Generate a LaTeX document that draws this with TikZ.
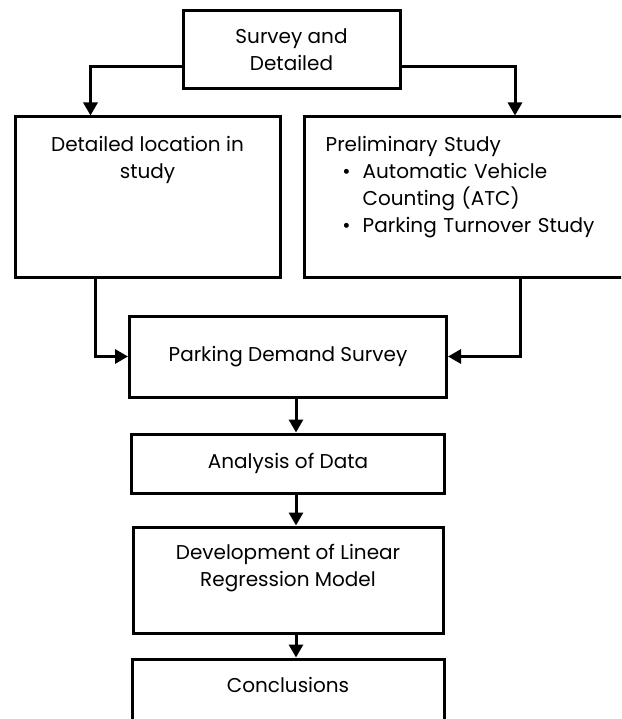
\documentclass[tikz,border=0pt]{standalone}
\usepackage{fontspec}
\setmainfont{Poppins}
\usepackage{enumitem}
\usetikzlibrary{arrows.meta, positioning}

\tikzset{
  stage/.style={draw, rectangle, line width=3pt, inner sep=0pt, align=center,
    font=\fontsize{20}{27}\selectfont},
  stagetext/.style={inner sep=0pt, align=center, font=\fontsize{20}{27}\selectfont},
  flow/.style={line width=3pt, -{Triangle[length=13pt,width=14pt]}},
}

\begin{document}
\begin{tikzpicture}[x=1pt, y=-1pt]

\useasboundingbox (0,0) rectangle (621,719);
\clip (0,0) rectangle (621,719);

%survey
\node[stage, minimum width=217pt, minimum height=78pt] (survey) at (291.5,50) {Survey and\\Detailed};
%location
\node[stage, minimum width=265pt, minimum height=160pt] (location) at (147.5,197) {};
\node[stagetext, below=20.5pt of location.north] (locationtext) {Detailed location in\\study};
%preliminary
\node[stage, minimum width=422pt, minimum height=160pt] (prelim) at (515,197) {};
\node[stagetext, align=left, text width=300pt, below right=20.5pt and 23pt of prelim.north west] (prelimtext) {Preliminary Study
\begin{itemize}[nosep, leftmargin=37pt, labelsep=12pt]
\item Automatic Vehicle\\Counting (ATC)
\item Parking Turnover Study
\end{itemize}};
%parking
\node[stage, minimum width=317pt, minimum height=81pt] (parking) at (288,356.5) {Parking Demand Survey};
%analysis
\node[stage, minimum width=313pt, minimum height=59pt, below=34pt of parking] (analysis) {Analysis of Data};
%development
\node[stage, minimum width=310pt, minimum height=106pt, below=31pt of analysis] (dev) {};
\node[stagetext, below=18.5pt of dev.north] (devtext) {Development of Linear\\Regression Model};
%conclusions
\node[stage, minimum width=312pt, minimum height=120pt, below=23pt of dev] (conc) {};
\node[stagetext, below=19.5pt of conc.north] (conctext) {Conclusions};


\draw[flow] ([yshift=-17pt]survey.west) -| ([xshift=77pt]location.north west);
\draw[flow] ([yshift=-17pt]survey.east) -| (prelim.north);

\draw[flow] ([xshift=82pt]location.south west) |- (parking.west);
\draw[flow] ([xshift=5pt]prelim.south) |- (parking.east);

\draw[flow] ([xshift=8pt]parking.south) -- ([xshift=8pt]analysis.north);
\draw[flow] ([xshift=8pt]analysis.south) -- ([xshift=8pt]dev.north);
\draw[flow] ([xshift=8pt]dev.south) -- ([xshift=8pt]conc.north);


\end{tikzpicture}
\end{document}
